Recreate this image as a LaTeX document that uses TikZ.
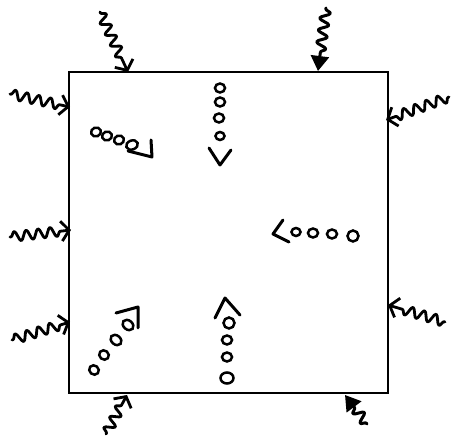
\documentclass[tikz,border=0pt]{standalone}
\usetikzlibrary{decorations.pathmorphing,arrows.meta,shapes.geometric}
\begin{document}
\begin{tikzpicture}[x=1pt,y=-1pt,
  wavy/.style={line width=2.8pt,line cap=round,line join=round,
    decoration={snake,amplitude=5pt,segment length=12pt,pre length=1pt,post length=10pt},
    decorate,-{Straight Barb[length=8pt,width=20pt,line width=2.8pt]}},
  heavy/.style={line width=3pt,line cap=round,line join=round,
    decoration={snake,amplitude=5pt,segment length=12pt,pre length=1pt,post length=14pt},
    decorate,-{Triangle[length=15pt,width=18pt]}},
  bead/.style={draw,line width=2.5pt,ellipse,inner sep=0pt,minimum width=10pt,minimum height=9pt},
  headline/.style={line width=3pt,line cap=round,line join=round}]
\useasboundingbox (0,0) rectangle (451,438);
% box
\coordinate (nw) at (69,72);
\coordinate (se) at (388,393);
\draw[line width=1.5pt] (nw) rectangle (se);
% wavy arrows: start points and tips
\coordinate (s1) at (100,12);  \coordinate (t1) at (128,72);
\coordinate (s2) at (326,8);   \coordinate (t2) at (318,71);
\coordinate (s3) at (10,94);   \coordinate (t3) at (70,107);
\coordinate (s4) at (10,237);  \coordinate (t4) at (71,230);
\coordinate (s5) at (12,340);  \coordinate (t5) at (70,322);
\coordinate (s6) at (449,97);  \coordinate (t6) at (386,120);
\coordinate (s7) at (445,322); \coordinate (t7) at (388,305);
\coordinate (s8) at (106,434); \coordinate (t8) at (127,395);
\coordinate (s9) at (367,424); \coordinate (t9) at (345,395);
\draw[wavy] (s1) -- (t1);
\draw[heavy] (s2) -- (t2);
\draw[wavy] (s3) -- (t3);
\draw[wavy] (s4) -- (t4);
\draw[wavy] (s5) -- (t5);
\draw[wavy] (s6) -- (t6);
\draw[wavy] (s7) -- (t7);
\draw[wavy] (s8) -- (t8);
\draw[heavy] (s9) -- (t9);
% top middle column, pointing down
\node[bead] (a1) at (220,88) {};
\node[bead] (a2) at (220,102) {};
\node[bead] (a3) at (219,118) {};
\node[bead,minimum width=9pt,minimum height=8pt] (a4) at (220,136) {};
\draw[headline] (209,148) -- (220,165) -- (231,150);
% upper left chain, pointing right-down
\node[bead,rotate=20] (b1) at (96,132) {};
\node[bead,rotate=20] (b2) at (107,136) {};
\node[bead,rotate=20] (b3) at (119,140) {};
\node[bead,rotate=20,minimum width=12pt] (b4) at (132,145) {};
\draw[headline] (128,151) -- (152,157) -- (151,140);
% right chain, pointing left
\draw[headline] (283,220) -- (273,234) -- (289,242);
\node[bead,minimum width=9pt,minimum height=8pt] (c1) at (296,232) {};
\node[bead] (c2) at (313,233) {};
\node[bead] (c3) at (332,234) {};
\node[bead,minimum width=11pt,minimum height=11pt] (c4) at (353,236) {};
% bottom middle column, pointing up
\draw[headline] (215,318) -- (225,298) -- (240,315);
\node[bead,minimum width=11pt,minimum height=11pt] (d1) at (229,323) {};
\node[bead] (d2) at (227,340) {};
\node[bead] (d3) at (227,357) {};
\node[bead,minimum width=13pt,minimum height=11pt] (d4) at (227,378) {};
% bottom left chain, pointing up-right
\node[bead,rotate=-40] (e1) at (94,370) {};
\node[bead,rotate=-40] (e2) at (104,355) {};
\node[bead,rotate=-40,minimum width=12pt] (e3) at (116,340) {};
\node[bead,rotate=-40,minimum width=12pt] (e4) at (128,325) {};
\draw[headline] (116,313) -- (138,307) -- (138,328);
\end{tikzpicture}
\end{document}
